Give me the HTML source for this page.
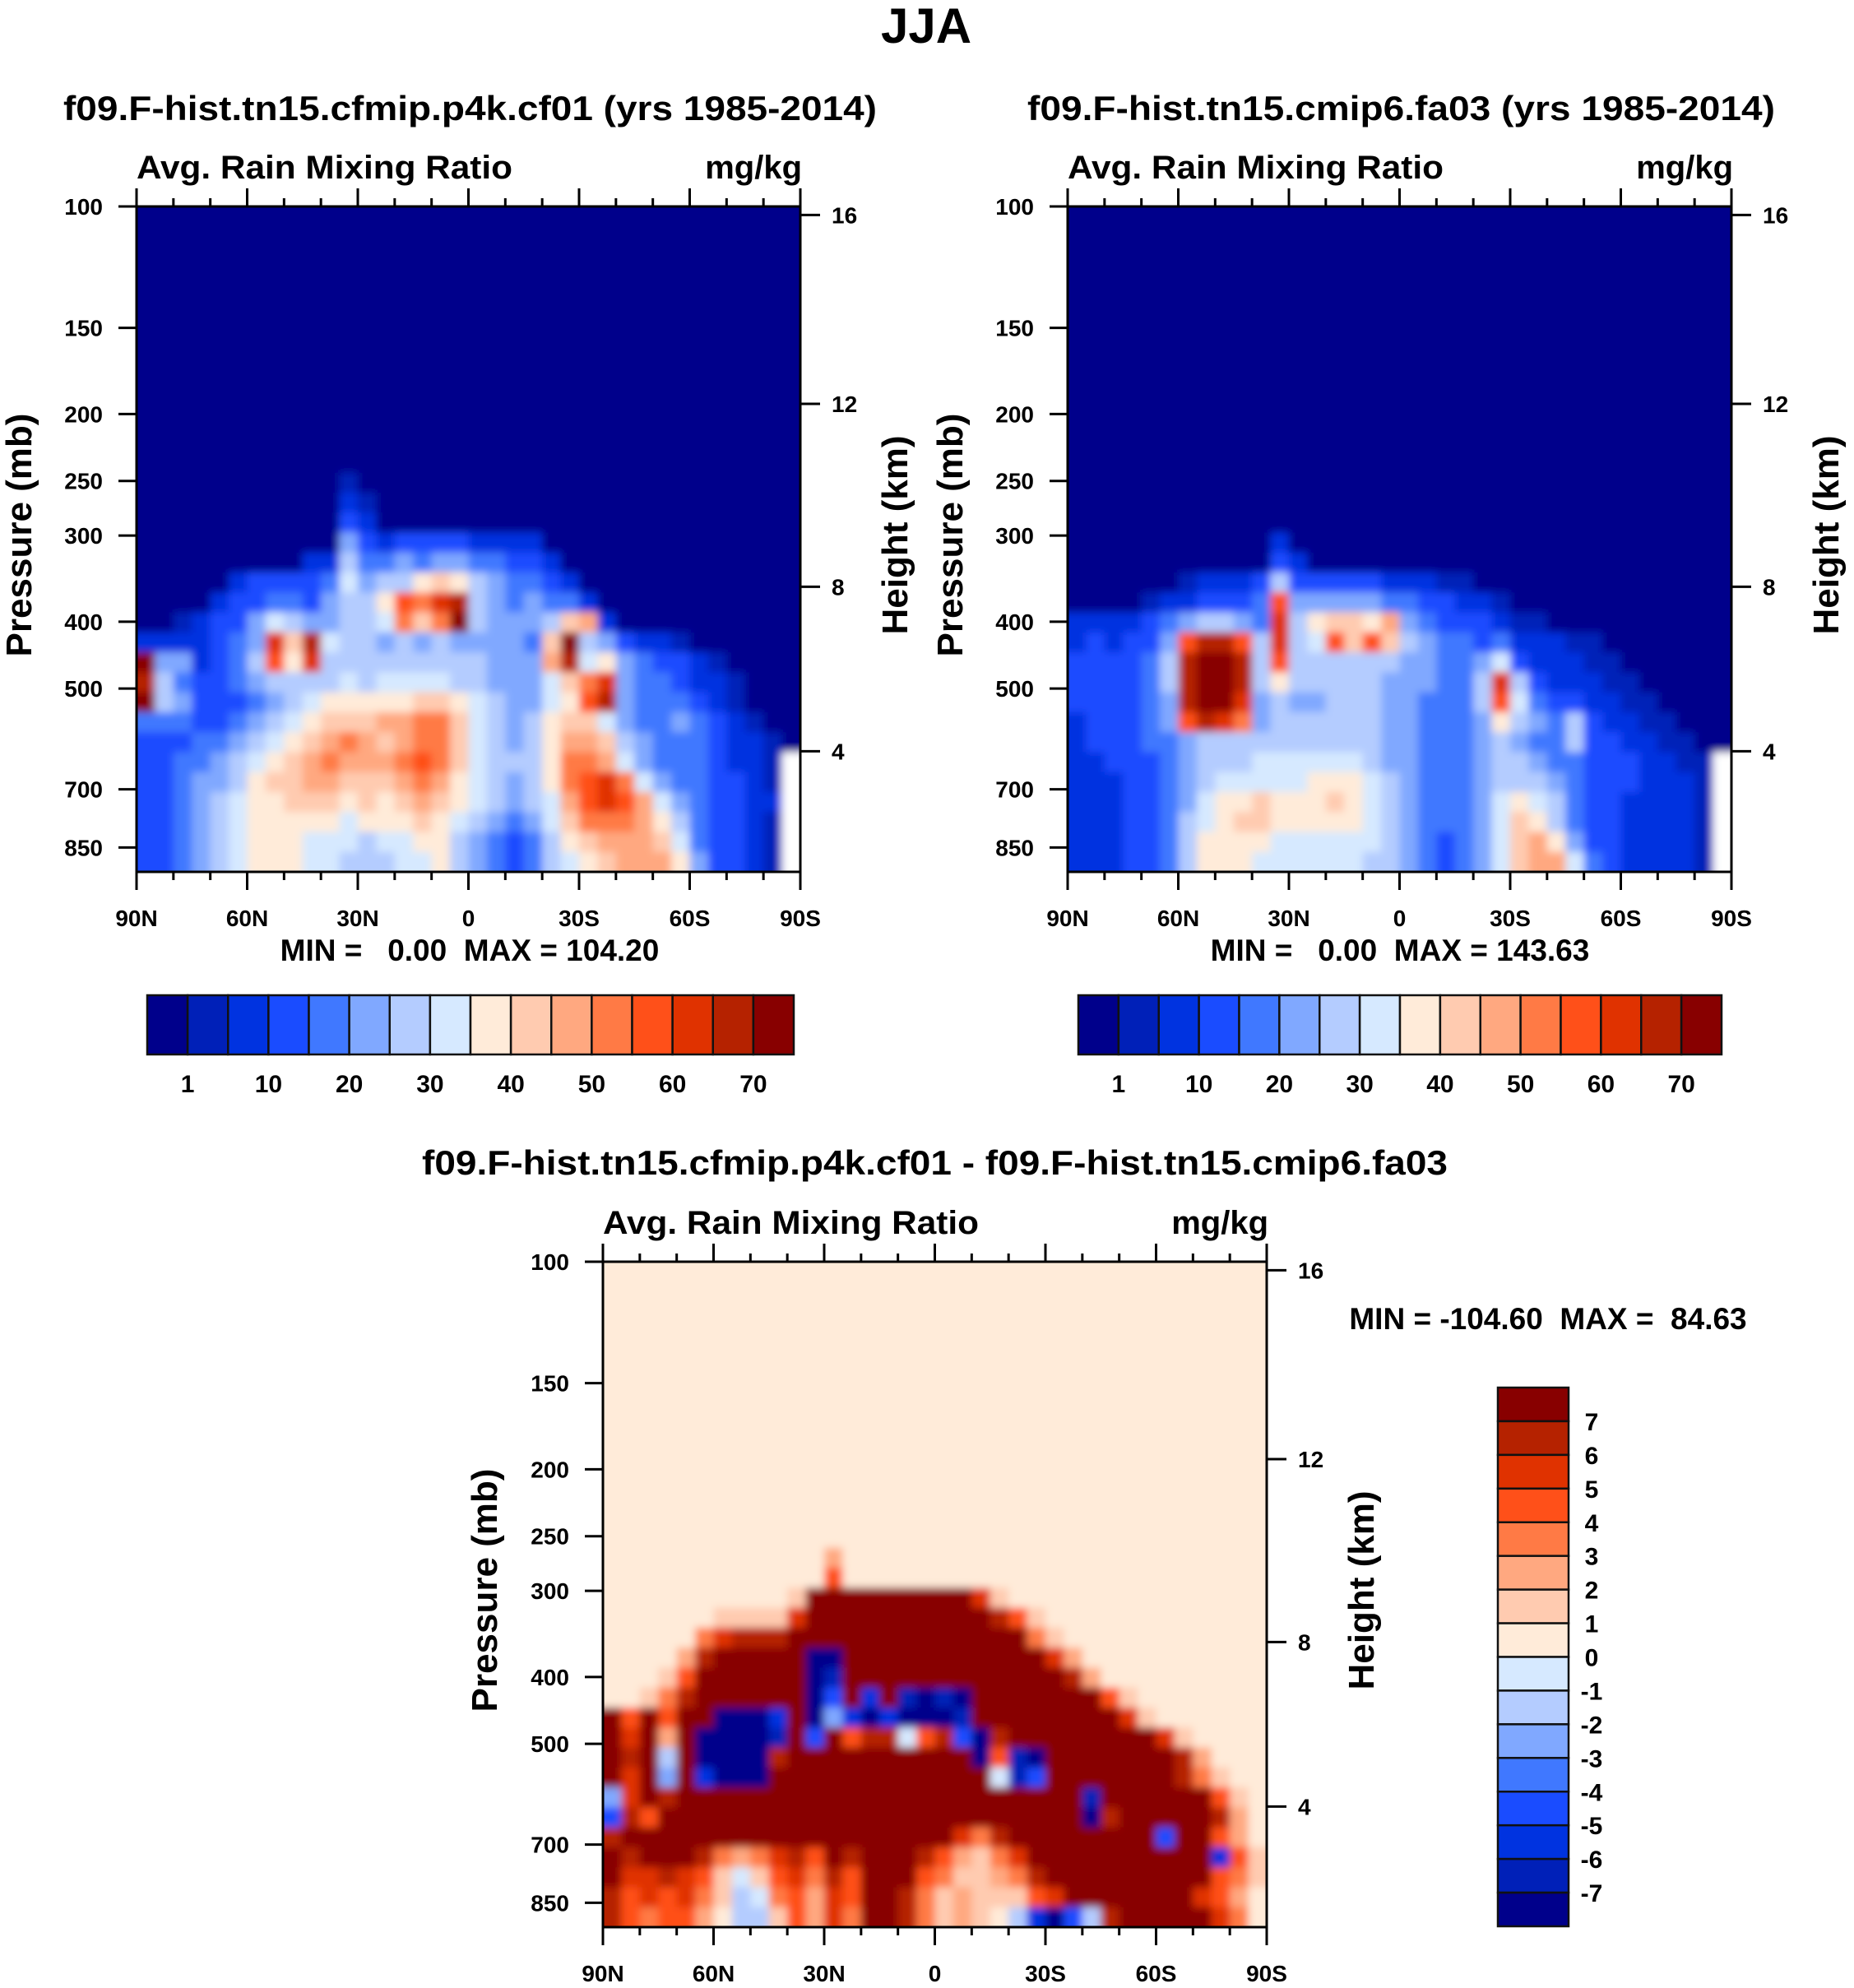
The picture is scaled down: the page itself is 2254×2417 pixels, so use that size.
<!DOCTYPE html>
<html><head><meta charset="utf-8"><title>JJA Avg. Rain Mixing Ratio</title>
<style>html,body{margin:0;padding:0;background:#fff;}svg{display:block;}text{font-family:"Liberation Sans",sans-serif;font-weight:bold;fill:#000;}</style>
</head><body>
<svg id="fig" xmlns="http://www.w3.org/2000/svg" width="2254" height="2417" viewBox="0 0 2254 2417"><defs><filter id="soft" x="-5%" y="-5%" width="110%" height="110%"><feGaussianBlur stdDeviation="5"/></filter></defs></svg>
<script>
// ---- data ----
const levelColors=['#00008b','#0020b8','#0033e0','#1a4cff','#4078ff','#80a8ff','#b4ccff','#d6e9ff','#ffebd9','#ffcbb0','#ffa880','#ff7a45','#ff5019','#e03200','#b52200','#880000'];
const latTicks=[90,60,30,0,-30,-60,-90];
const latLabels=['90N','60N','30N','0','30S','60S','90S'];
const pTicks=[100,150,200,250,300,400,500,700,850];
const zTicks=[16,12,8,4];
const cbLabels=['1','10','20','30','40','50','60','70'];
const diffLabels=['7','6','5','4','3','2','1','0','-1','-2','-3','-4','-5','-6','-7'];
const tlRows=["000000000001","0000000000021","0000000000032","00000000000532333322220","000000000226445455443320","00000"+"2333347566898654432","00002334435668cbde6545442","00123357655667b9bf655569a2","2222345d9e7665656555549f653221","f552346c8d666666666555ae78543321","e643"+"3456"+"6667"+"6777"+"7665"+"5579"+"bd54"+"43221","f653"+"3345"+"6788"+"8889"+"9876"+"5578"+"ce54"+"44321","4443"+"3456"+"7899"+"9aab"+"b976"+"5689"+"9754"+"454321","3334"+"4567"+"89ab"+"a9ab"+"b976"+"568a"+"a965"+"4443221","3344"+"5678"+"9aba"+"aabc"+"b976"+"668b"+"ba75"+"4443221x","3345"+"5689"+"9aa9"+"99ab"+"a876"+"568b"+"cdb7"+"5443321x","3345"+"6788"+"9998"+"989a"+"9876"+"567a"+"cdca"+"7543322x","3345"+"6788"+"8887"+"8889"+"8765"+"4579"+"bbba"+"8643321x","3345"+"6788"+"8777"+"6778"+"8654"+"3468"+"9aaa"+"9743321x","3345"+"6788"+"8776"+"6677"+"8654"+"3467"+"89aa"+"a853321x"];
const trRows=["0","0","0","000000000002","0000000000032","000000"+"1222363333322211","0000"+"1223334c555554433221","2222"+"3456"+"654d"+"6899"+"8a54"+"3332"+"11","2323"+"35ce"+"ec6d"+"67c9"+"c965"+"4434"+"22211","3333"+"46ef"+"fe6c"+"6666"+"6655"+"4457"+"322211","3333"+"46ef"+"fe68"+"6666"+"6555"+"446d"+"6322211","3333"+"45ef"+"fd56"+"5566"+"6554"+"446c"+"74332211","2333"+"45ce"+"db56"+"6666"+"6554"+"4458"+"654632211","2333"+"4456"+"6666"+"6666"+"6554"+"4456"+"5446332211","2233"+"3456"+"6677"+"7777"+"6554"+"4456"+"65443332211x","2223"+"3456"+"7777"+"7888"+"7654"+"4456"+"66543332221x","2223"+"3457"+"8898"+"8898"+"7654"+"4457"+"87643322221x","2223"+"3467"+"8998"+"8888"+"7654"+"4457"+"98643322221x","2223"+"3468"+"8887"+"7777"+"7654"+"3457"+"9a853322221x","2223"+"3468"+"8877"+"7777"+"6654"+"3457"+"9aa74322221x"];
const dfRows=["8","888888888888a","888888888888c","8888888888"+"9"+"fffffffff"+"d9","888888"+"9999"+"d"+"ffffffffff"+"ec9","88888"+"bdeeef"+"fffffffffff"+"fb9","8888"+"ae"+"fffff"+"00"+"fffffffffff"+"da","888"+"9c"+"ffffff"+"01"+"ffffffffffff"+"ea","88"+"9be"+"ffffff"+"03f2f1010"+"fffffff"+"c9","fcfcff"+"0002"+"f"+"052020001"+"ffffffff"+"d9","fdfaf"+"0000"+"1"+"f3fcee7ce30e"+"ffffffff"+"d9","fef6f"+"0000"+"e"+"ffffffffff"+"0c10"+"fffffff"+"ea","fdf5f2"+"000"+"ffffffffffff"+"713"+"fffffff"+"eb9","5dfe"+"ffffffffffffffffffffff"+"1"+"ffffff"+"c9","3ec"+"fffffffffffffffffffffff"+"0e"+"fffff"+"ea","e"+"ffffffffffffffffff"+"dbe"+"ffffffff"+"3ffca8","fefffebabdecfefffeca9bd"+"ffffffffff"+"2c9","fddedc979cdbecfffcb99abe"+"fffffffff"+"cb9","ecdcdb967bcadcffeb9a999cd"+"fffffff"+"dca8","ecbcca8669cadbffeb9a9862036e"+"fffff"+"db8"];
const P_BOTTOM=922, ROW_F0=0.4, ROW_DF=0.03, NCOL=36, DLAT=5;

// ---- drawing ----
const NS='http://www.w3.org/2000/svg';
const svg=document.getElementById('fig');
const defs=svg.querySelector('defs');
function mk(tag,attrs,parent){const e=document.createElementNS(NS,tag);for(const k in attrs)e.setAttribute(k,attrs[k]);(parent||svg).appendChild(e);return e;}
function txt(s,attrs,parent){const e=mk('text',attrs,parent);e.textContent=s;return e;}
function zToP(km){const z=km*1000;if(z<=11000)return 1013.25*Math.pow(1-2.25577e-5*z,5.25588);return 226.32*Math.exp(-(z-11000)/6341.6);}

function drawPanel(cfg){
  const g=mk('g',{});
  
  
  const xs=lat=>cfg.x0+(90-lat)/180*(cfg.x1-cfg.x0);
  const ys=p=>cfg.y0+Math.log(p/100)/Math.log(P_BOTTOM/100)*(cfg.y1-cfg.y0);
  const cp=mk('clipPath',{id:'clip-'+cfg.name},defs);
  mk('rect',{x:cfg.x0,y:cfg.y0,width:cfg.x1-cfg.x0,height:cfg.y1-cfg.y0},cp);
  const clipG=mk('g',{'clip-path':'url(#clip-'+cfg.name+')'},g);
  const fg=mk('g',{filter:'url(#soft)'},clipG);
  const bg=mk('rect',{x:cfg.x0-30,y:cfg.y0-30,width:cfg.x1-cfg.x0+60,height:cfg.y1-cfg.y0+60,fill:levelColors[cfg.bg]},fg);
  
  
  cfg.rows.forEach((rs,r)=>{
    const pTop=100*Math.pow(P_BOTTOM/100,ROW_F0+r*ROW_DF);
    const isLast=r===cfg.rows.length-1;
    const pBot=100*Math.pow(P_BOTTOM/100,Math.min(1,ROW_F0+(r+1)*ROW_DF));
    for(let c=0;c<NCOL;c++){
      const ch=c<rs.length?rs[c]:cfg.pad;
      const fill=ch==='x'?'#ffffff':levelColors[parseInt(ch,16)];
      const latA=90-c*DLAT, latB=latA-DLAT;
      let x=xs(latA), w=xs(latB)-xs(latA)+0.6;
      if(c===0){x-=20;w+=20;}
      if(c===NCOL-1){w+=20;}
      let h=ys(pBot)-ys(pTop)+0.6;
      if(isLast)h+=20;
      const cell=mk('rect',{x:x,y:ys(pTop),width:w,height:h,fill:fill},fg);
      
      
    }
  });
  const fr=mk('rect',{x:cfg.x0,y:cfg.y0,width:cfg.x1-cfg.x0,height:cfg.y1-cfg.y0,fill:'none',stroke:'#000','stroke-width':3},g);
  
  
  for(let lat=90;lat>=-90;lat-=10){
    const maj=lat%30===0, L=maj?22:10, x=xs(lat);
    mk('line',{x1:x,x2:x,y1:cfg.y0,y2:cfg.y0-L,stroke:'#000','stroke-width':3},g);
    mk('line',{x1:x,x2:x,y1:cfg.y1,y2:cfg.y1+L,stroke:'#000','stroke-width':3},g);
  }
  latTicks.forEach((lat,i)=>{
    const t=txt(latLabels[i],{x:xs(lat),y:cfg.latY,'font-size':28,'text-anchor':'middle'},g);
    
    
  });
  pTicks.forEach(p=>{
    const y=ys(p);
    mk('line',{x1:cfg.x0,x2:cfg.x0-22,y1:y,y2:y,stroke:'#000','stroke-width':3},g);
    const t=txt(String(p),{x:cfg.x0-41,y:y+10,'font-size':28,'text-anchor':'end'},g);
    
    
  });
  zTicks.forEach(z=>{
    const y=ys(zToP(z));
    mk('line',{x1:cfg.x1,x2:cfg.x1+24,y1:y,y2:y,stroke:'#000','stroke-width':3},g);
    const t=txt(String(z),{x:cfg.x1+38,y:y+10,'font-size':28},g);
    
    
  });
  const a=txt('Avg. Rain Mixing Ratio',{x:cfg.x0,y:cfg.y0-34,'font-size':40,textLength:457,lengthAdjust:'spacingAndGlyphs'},g);
  
  
  const u=txt('mg/kg',{x:cfg.x1+2,y:cfg.y0-34,'font-size':40,'text-anchor':'end'},g);
  
  
  const py=(cfg.y0+cfg.y1)/2-5;
  const pl=txt('Pressure (mb)',{x:0,y:0,'font-size':44,'text-anchor':'middle',transform:`translate(${cfg.pLabX},${py}) rotate(-90)`},g);
  
  
  const hl=txt('Height (km)',{x:0,y:0,'font-size':44,'text-anchor':'middle',transform:`translate(${cfg.hLabX},${py}) rotate(-90)`},g);
  
  
  const tt=txt(cfg.title,{x:(cfg.tx0+cfg.tx1)/2,y:cfg.titleY,'font-size':42,'text-anchor':'middle',textLength:cfg.tx1-cfg.tx0,lengthAdjust:'spacingAndGlyphs'},g);
  
  
  const mm=txt(cfg.minmax,{x:cfg.mmX,y:cfg.mmY,'font-size':37,'text-anchor':'middle','xml:space':'preserve',style:'white-space:pre'},g);
  
  
}

function hColorbar(x0,x1,y0,y1){
  const g=mk('g',{});
  
  
  const w=(x1-x0)/levelColors.length;
  levelColors.forEach((c,i)=>{
    const b=mk('rect',{x:x0+i*w,y:y0,width:w,height:y1-y0,fill:c,stroke:'#111','stroke-width':2.5},g);
    
    
  });
  cbLabels.forEach((s,i)=>{
    const t=txt(s,{x:x0+(1+2*i)*w,y:y1+46,'font-size':30,'text-anchor':'middle'},g);
    
    
  });
}
function vColorbar(x0,x1,y0,y1){
  const g=mk('g',{});
  
  
  const h=(y1-y0)/levelColors.length;
  levelColors.slice().reverse().forEach((c,i)=>{
    const b=mk('rect',{x:x0,y:y0+i*h,width:x1-x0,height:h,fill:c,stroke:'#111','stroke-width':2.5},g);
    
    
  });
  diffLabels.forEach((s,i)=>{
    const t=txt(s,{x:x1+28,y:y0+(i+1)*h+11,'font-size':30,'text-anchor':'middle'},g);
    
    
  });
}

const main=txt('JJA',{x:1126,y:52,'font-size':60,'text-anchor':'middle'});



drawPanel({name:'panel-cfmip-p4k',x0:166,x1:973,y0:251,y1:1060,rows:tlRows,bg:0,pad:'0',latY:1126,pLabX:38,hLabX:1103,
  title:'f09.F-hist.tn15.cfmip.p4k.cf01 (yrs 1985-2014)',tx0:77,tx1:1066,titleY:146,minmax:'MIN =   0.00  MAX = 104.20',mmX:571,mmY:1168});
hColorbar(179,965,1210,1282);
drawPanel({name:'panel-cmip6',x0:1298,x1:2105,y0:251,y1:1060,rows:trRows,bg:0,pad:'0',latY:1126,pLabX:1170,hLabX:2235,
  title:'f09.F-hist.tn15.cmip6.fa03 (yrs 1985-2014)',tx0:1249,tx1:2158,titleY:146,minmax:'MIN =   0.00  MAX = 143.63',mmX:1702,mmY:1168});
hColorbar(1311,2093,1210,1282);
drawPanel({name:'panel-difference',x0:733,x1:1540,y0:1534,y1:2343,rows:dfRows,bg:8,pad:'8',latY:2409,pLabX:604,hLabX:1670,
  title:'f09.F-hist.tn15.cfmip.p4k.cf01 - f09.F-hist.tn15.cmip6.fa03',tx0:513,tx1:1760,titleY:1428,minmax:'MIN = -104.60  MAX =  84.63',mmX:1882,mmY:1616});
vColorbar(1821,1907,1687,2342);
</script>
</body></html>
